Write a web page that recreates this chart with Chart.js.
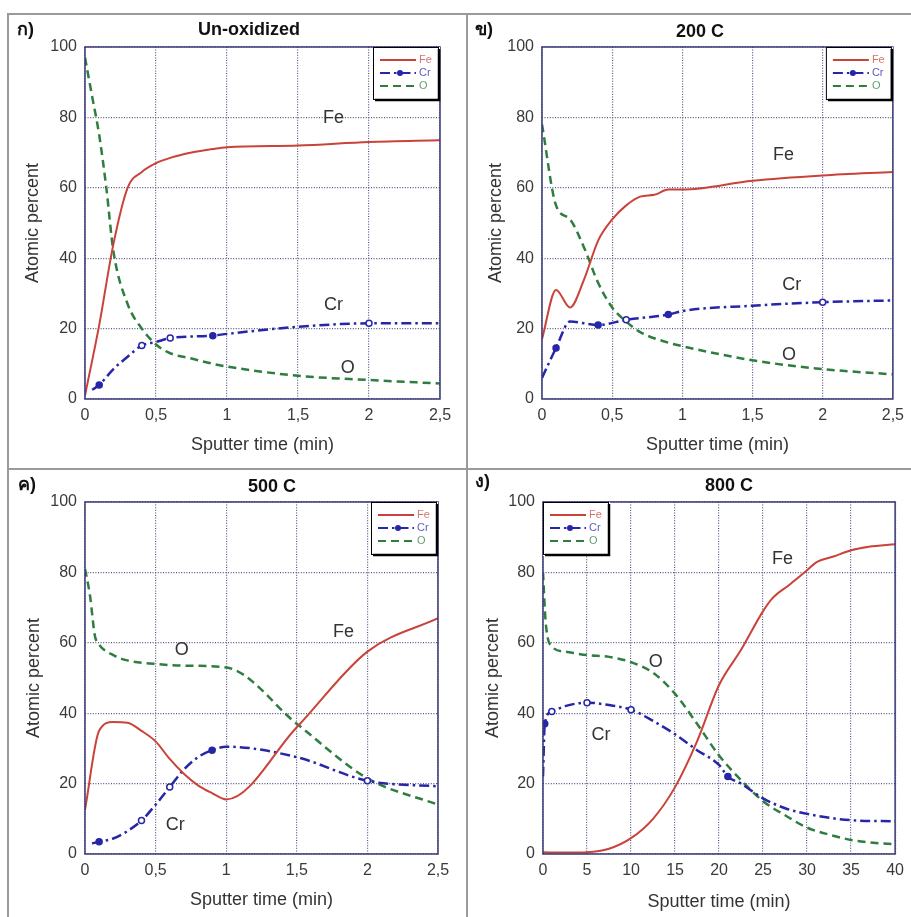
<!DOCTYPE html>
<html>
<head>
<meta charset="utf-8">
<script src="https://cdn.jsdelivr.net/npm/chart.js@4.4.1/dist/chart.umd.min.js"></script>
<style>
  body { margin: 0; background: #fff; }
  #fig { position: relative; width: 911px; height: 917px; overflow: hidden; background: #fff; }
  canvas { position: absolute; }
  .ln { position: absolute; background: #9a9a9a; z-index: 2; }
</style>
</head>
<body>
<div id="fig">
  <canvas id="c1"></canvas>
  <canvas id="c2"></canvas>
  <canvas id="c3"></canvas>
  <canvas id="c4"></canvas>
  <div class="ln" style="left:7px;top:13px;width:904px;height:1.5px"></div>
  <div class="ln" style="left:7px;top:13px;width:1.5px;height:904px"></div>
  <div class="ln" style="left:466px;top:13px;width:1.5px;height:904px"></div>
  <div class="ln" style="left:7px;top:468px;width:904px;height:1.5px"></div>
</div>
<script>
// ---- data ----
// ก) Un-oxidized
const t1Fe = [0, 0.1, 0.2, 0.3, 0.4, 0.5, 0.6, 0.75, 0.9, 1, 1.5, 2, 2.5];
const fe1  = [1, 21, 44, 60, 64.5, 67, 68.5, 70, 71, 71.5, 72, 73, 73.5];
const t1Cr = [0.05, 0.1, 0.2, 0.3, 0.4, 0.5, 0.6, 0.9, 1, 1.5, 2, 2.5];
const cr1  = [2.6, 4, 8.5, 12, 15.2, 16.2, 17.3, 18, 18.5, 20.5, 21.5, 21.5];
const t1O  = [0, 0.05, 0.1, 0.15, 0.2, 0.3, 0.4, 0.5, 0.6, 0.75, 0.9, 1, 1.5, 2, 2.5];
const o1   = [97, 86, 75, 60, 42, 27, 20, 15.5, 13, 11.5, 10, 9.2, 6.6, 5.4, 4.4];
const crMarks1 = [0.1, 0.4, 0.6, 0.9, 2];

// ข) 200 C
const t2Fe = [0, 0.1, 0.2, 0.3, 0.4, 0.5, 0.6, 0.7, 0.8, 0.9, 1, 1.5, 2, 2.5];
const fe2  = [17, 31, 26, 34, 45, 51, 55, 57.5, 58, 59.5, 59.5, 62, 63.5, 64.5];
const t2Cr = [0, 0.1, 0.2, 0.4, 0.6, 0.9, 1, 1.5, 2, 2.5];
const cr2  = [6, 14.5, 22, 21, 22.5, 24, 25, 26.5, 27.5, 28];
const t2O  = [0, 0.1, 0.2, 0.3, 0.4, 0.5, 0.6, 0.7, 0.9, 1, 1.5, 2, 2.5];
const o2   = [78, 55, 51, 43, 33, 26, 22, 19, 16, 15, 11, 8.5, 7];
const crMarks2 = [0.1, 0.4, 0.6, 0.9, 2];

// ค) 500 C
const t3Fe = [0, 0.1, 0.2, 0.3, 0.4, 0.5, 0.6, 0.7, 0.8, 0.9, 1, 1.5, 2, 2.5];
const fe3  = [12.5, 35, 37.5, 37.3, 35, 32, 27, 22.8, 19.5, 17.3, 15.5, 36, 57.5, 67];
const t3Cr = [0.05, 0.1, 0.2, 0.3, 0.4, 0.5, 0.6, 0.7, 0.8, 0.9, 1, 1.5, 2, 2.5];
const cr3  = [3, 3.5, 4.4, 6.5, 9.5, 14, 19, 24, 27.5, 29.5, 30.5, 27.5, 20.8, 19.2];
const t3O  = [0, 0.035, 0.07, 0.1, 0.2, 0.3, 0.5, 0.7, 1, 1.5, 2, 2.5];
const o3   = [81, 73.5, 62, 59.5, 56.5, 55, 54, 53.5, 53, 37, 21.5, 14];
const crMarks3 = [0.1, 0.4, 0.6, 0.9, 2];

// ง) 800 C
const t4Fe = [0, 2.5, 5, 7.5, 10, 12.5, 15, 17.5, 20, 22.5, 25, 26, 28, 30, 31, 33, 35, 37, 40];
const fe4  = [0.5, 0.4, 0.5, 1.5, 4.5, 10, 19, 32, 48, 58, 69, 72.5, 76.5, 80.6, 82.8, 84.5, 86.3, 87.3, 88];
const t4Cr = [0, 0.2, 1, 2.5, 5, 7.5, 10, 12.5, 15, 17.5, 20, 21, 22.5, 25, 27.5, 30, 35, 40];
const cr4  = [22, 37, 40.5, 42, 43, 42.3, 41, 37.8, 34, 29.5, 25.3, 22, 20, 15.8, 13, 11.4, 9.6, 9.3];
const t4O  = [0, 0.3, 1, 2.5, 5, 7.5, 10, 12.5, 15, 17.5, 20, 22.5, 25, 27.5, 30, 32.5, 35, 37.5, 40];
const o4   = [80, 66, 59, 57.5, 56.5, 56, 54.5, 51.5, 45.5, 37, 28, 21, 15, 11, 7.5, 5.5, 4, 3.2, 2.8];
const crMarks4 = [0.2, 1, 5, 10, 21];

// in-plot element labels [text, x, y] in data units
const notes1 = [["Fe", 1.75, 79.7], ["Cr", 1.75, 26.7], ["O", 1.85, 8.7]];
const notes2 = [["Fe", 1.72, 69.3], ["Cr", 1.78, 32.4], ["O", 1.76, 12.5]];
const notes3 = [["O", 0.685, 57.9], ["Fe", 1.83, 63.1], ["Cr", 0.64, 8.2]];
const notes4 = [["Fe", 27.2, 83.9], ["O", 12.8, 54.6], ["Cr", 6.6, 33.8]];

const yTicks = [0, 20, 40, 60, 80, 100];

const RED = '#c9433a', BLUE = '#2626a8', GREEN = '#2f7d3f';
const FONT = '"Liberation Sans", Arial, sans-serif';

const zip = (xs, ys) => xs.map((x, i) => ({x, y: ys[i]}));

const deco = {
  id: 'deco',
  afterDraw(chart, args, o) {
    const {ctx, chartArea: a, scales: {x, y}} = chart;
    ctx.save();
    ctx.strokeStyle = '#3a3a78';
    ctx.lineWidth = 1.5;
    ctx.strokeRect(a.left, a.top, a.width, a.height);

    ctx.fillStyle = '#333';
    ctx.font = '18px ' + FONT;
    ctx.textAlign = 'center';
    ctx.textBaseline = 'middle';
    o.notes.forEach(([t, vx, vy]) => ctx.fillText(t, x.getPixelForValue(vx), y.getPixelForValue(vy)));

    ctx.fillStyle = '#111';
    ctx.font = 'bold 18px ' + FONT;
    ctx.fillText(o.title, o.titleX, o.titleY);
    ctx.textAlign = 'left';
    ctx.fillText(o.tag, o.tagX, o.tagY);

    // legend box
    const w = 67, h = 54;
    const bx = o.legendSide === 'left' ? a.left : a.right - w;
    const by = a.top;
    ctx.fillStyle = '#fff';
    ctx.fillRect(bx, by, w, h);
    ctx.strokeStyle = '#000';
    ctx.lineWidth = 1;
    ctx.strokeRect(bx + 0.5, by + 0.5, w - 2, h - 2);
    ctx.lineWidth = 2.5;
    ctx.beginPath();
    ctx.moveTo(bx + 2, by + h - 1);
    ctx.lineTo(bx + w - 1, by + h - 1);
    ctx.lineTo(bx + w - 1, by + 2);
    ctx.stroke();
    ctx.font = '11px ' + FONT;
    ctx.textBaseline = 'middle';
    chart.data.datasets.forEach((ds, i) => {
      const ly = by + 13 + i * 13;
      ctx.strokeStyle = ds.borderColor;
      ctx.lineWidth = 2;
      ctx.setLineDash(ds.borderDash || []);
      ctx.beginPath();
      ctx.moveTo(bx + 7, ly);
      ctx.lineTo(bx + 43, ly);
      ctx.stroke();
      ctx.setLineDash([]);
      if (ds.label === 'Cr') {
        ctx.fillStyle = ds.borderColor;
        ctx.beginPath();
        ctx.arc(bx + 27, ly, 3, 0, Math.PI * 2);
        ctx.fill();
      }
      ctx.fillStyle = ds.borderColor;
      ctx.globalAlpha = 0.75;
      ctx.fillText(ds.label, bx + 46, ly);
      ctx.globalAlpha = 1;
    });
    ctx.restore();
  }
};

function panel(id, cell, plot, s) {
  const cv = document.getElementById(id);
  cv.width = cell.w; cv.height = cell.h;
  cv.style.left = cell.l + 'px'; cv.style.top = cell.t + 'px';
  cv.style.width = cell.w + 'px'; cv.style.height = cell.h + 'px';
  const yW = plot.l - cell.l, xH = cell.t + cell.h - plot.b;
  const marks = s.marks;
  const gridOpts = {color: '#555585', lineWidth: 1.2, drawTicks: false};
  new Chart(cv, {
    type: 'line',
    data: {
      datasets: [
        {label: 'Fe', data: zip(s.tFe, s.fe), borderColor: RED, borderWidth: 2, pointRadius: 0},
        {label: 'Cr', data: zip(s.tCr, s.cr), borderColor: BLUE, borderWidth: 2.5, borderDash: [10, 4, 2.5, 4],
          pointRadius: c => marks.includes(c.raw && c.raw.x) ? 3 : 0,
          pointBackgroundColor: c => (c.dataIndex % 2 ? BLUE : '#fff'),
          pointBorderColor: BLUE, pointBorderWidth: 1.5},
        {label: 'O', data: zip(s.tO, s.o), borderColor: GREEN, borderWidth: 2.5, borderDash: [8, 5], pointRadius: 0}
      ]
    },
    options: {
      responsive: false,
      devicePixelRatio: 1,
      animation: false,
      layout: {padding: {top: plot.t - cell.t, right: cell.l + cell.w - plot.r, left: 0, bottom: 0}},
      elements: {line: {cubicInterpolationMode: 'monotone', fill: false}},
      plugins: {
        legend: {display: false},
        tooltip: {enabled: false},
        deco: s.deco
      },
      scales: {
        x: {
          type: 'linear', min: 0, max: s.xMax,
          ticks: {stepSize: s.xStep, color: '#3a3a3a', padding: 7, font: {family: FONT, size: 16},
            callback: v => String(v).replace('.', ',')},
          grid: {...gridOpts},
          border: {display: false, dash: [1, 1.6]},
          title: {display: true, text: 'Sputter time (min)', color: '#333', font: {family: FONT, size: 18},
            padding: {top: 0, bottom: s.xTitlePad}},
          afterFit: sc => { sc.height = xH; }
        },
        y: {
          min: 0, max: 100,
          afterBuildTicks: sc => { sc.ticks = yTicks.map(v => ({value: v})); },
          ticks: {color: '#3a3a3a', padding: 8, font: {family: FONT, size: 16}},
          grid: {...gridOpts},
          border: {display: false, dash: [1, 1.6]},
          title: {display: true, text: 'Atomic percent', color: '#333', font: {family: FONT, size: 18},
            padding: {top: s.yTitlePad, bottom: 0}},
          afterFit: sc => { sc.width = yW; }
        }
      }
    },
    plugins: [deco]
  });
}

panel('c1', {l: 7, t: 13, w: 459, h: 455}, {l: 85, t: 47, r: 440, b: 399}, {
  tFe: t1Fe, fe: fe1, tCr: t1Cr, cr: cr1, tO: t1O, o: o1, marks: crMarks1,
  xMax: 2.5, xStep: 0.5, xTitlePad: 12, yTitlePad: 15,
  deco: {notes: notes1, title: 'Un-oxidized', titleX: 242, titleY: 17, tag: 'ก)', tagX: 10, tagY: 17, legendSide: 'right'}
});
panel('c2', {l: 466, t: 13, w: 445, h: 455}, {l: 542, t: 47, r: 897, b: 399}, {
  tFe: t2Fe, fe: fe2, tCr: t2Cr, cr: cr2, tO: t2O, o: o2, marks: crMarks2,
  xMax: 2.5, xStep: 0.5, xTitlePad: 12, yTitlePad: 19,
  deco: {notes: notes2, title: '200 C', titleX: 234, titleY: 19, tag: 'ข)', tagX: 9, tagY: 17, legendSide: 'right'}
});
panel('c3', {l: 7, t: 468, w: 459, h: 449}, {l: 85, t: 502, r: 438, b: 854}, {
  tFe: t3Fe, fe: fe3, tCr: t3Cr, cr: cr3, tO: t3O, o: o3, marks: crMarks3,
  xMax: 2.5, xStep: 0.5, xTitlePad: 6, yTitlePad: 16,
  deco: {notes: notes3, title: '500 C', titleX: 265, titleY: 19, tag: 'ค)', tagX: 11, tagY: 17, legendSide: 'right'}
});
panel('c4', {l: 466, t: 468, w: 445, h: 449}, {l: 543, t: 502, r: 897, b: 854}, {
  tFe: t4Fe, fe: fe4, tCr: t4Cr, cr: cr4, tO: t4O, o: o4, marks: crMarks4,
  xMax: 40, xStep: 5, xTitlePad: 4, yTitlePad: 16,
  deco: {notes: notes4, title: '800 C', titleX: 263, titleY: 18, tag: 'ง)', tagX: 9, tagY: 14, legendSide: 'left'}
});
</script>
</body>
</html>
